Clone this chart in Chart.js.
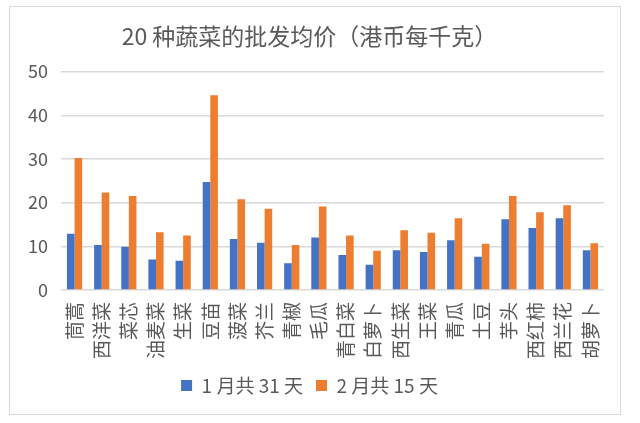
<!DOCTYPE html>
<html>
<head>
<meta charset="utf-8">
<script src="https://cdn.jsdelivr.net/npm/chart.js@4"></script>
<style>
  html, body { margin: 0; padding: 0; background: #fff; }
  #box {
    position: absolute; left: 9px; top: 6px;
    width: 610px; height: 407px;
    border: 1px solid #d9d9d9;
  }
</style>
</head>
<body>
<div id="box"><canvas id="chart"></canvas></div>
<script>
  // 20 vegetables, wholesale average price (HKD per kg)
  const vegetables = ['茼蒿', '西洋菜', '菜芯', '油麦菜', '生菜', '豆苗', '菠菜', '芥兰', '青椒', '毛瓜',
    '青白菜', '白萝卜', '西生菜', '王菜', '青瓜', '土豆', '芋头', '西红柿', '西兰花', '胡萝卜'];
  const janPrices = [12.9, 10.3, 9.9, 7.0, 6.7, 24.7, 11.7, 10.8, 6.1, 12.0,
    8.0, 5.8, 9.1, 8.7, 11.4, 7.6, 16.2, 14.2, 16.4, 9.1];
  const febPrices = [30.2, 22.3, 21.5, 13.2, 12.5, 44.6, 20.8, 18.6, 10.3, 19.1,
    12.5, 9.0, 13.7, 13.1, 16.4, 10.6, 21.5, 17.8, 19.4, 10.7];
  const yTicks = [0, 10, 20, 30, 40, 50];

  const font = '"Noto Sans CJK SC", "Noto Sans", sans-serif';
  const grey = '#595959';

  const ctx = document.getElementById('chart').getContext('2d');
  new Chart(ctx, {
    type: 'bar',
    data: {
      labels: vegetables,
      datasets: [{
        label: '1 月共 31 天',
        data: janPrices,
        backgroundColor: '#4472C4'
      }, {
        label: '2 月共 15 天',
        data: febPrices,
        backgroundColor: '#ED7D31'
      }]
    },
    options: {
      responsive: true,
      maintainAspectRatio: false,
      animation: false,
      categoryPercentage: 0.56,
      barPercentage: 1.0,
      layout: { padding: { left: 5, right: 16, top: 9, bottom: 9 } },
      plugins: {
        title: {
          display: true,
          text: '20 种蔬菜的批发均价（港币每千克）',
          color: grey,
          font: { family: font, size: 23, weight: 'normal' },
          padding: { top: 6, bottom: 22 }
        },
        legend: {
          position: 'bottom',
          labels: {
            color: grey,
            font: { family: font, size: 19 },
            boxWidth: 11,
            boxHeight: 11,
            padding: 13
          }
        },
        tooltip: { enabled: false }
      },
      scales: {
        x: {
          grid: { display: false },
          border: { display: false },
          ticks: {
            color: grey,
            font: { family: font, size: 19 },
            minRotation: 90,
            maxRotation: 90,
            autoSkip: false,
            padding: 4
          }
        },
        y: {
          min: 0,
          max: 50,
          afterBuildTicks: axis => { axis.ticks = yTicks.map(v => ({ value: v })); },
          grid: { color: '#d9d9d9', lineWidth: 1.5, drawTicks: false },
          border: { display: false },
          ticks: {
            color: grey,
            font: { family: font, size: 18 },
            padding: 13
          }
        }
      }
    }
  });
</script>
</body>
</html>
